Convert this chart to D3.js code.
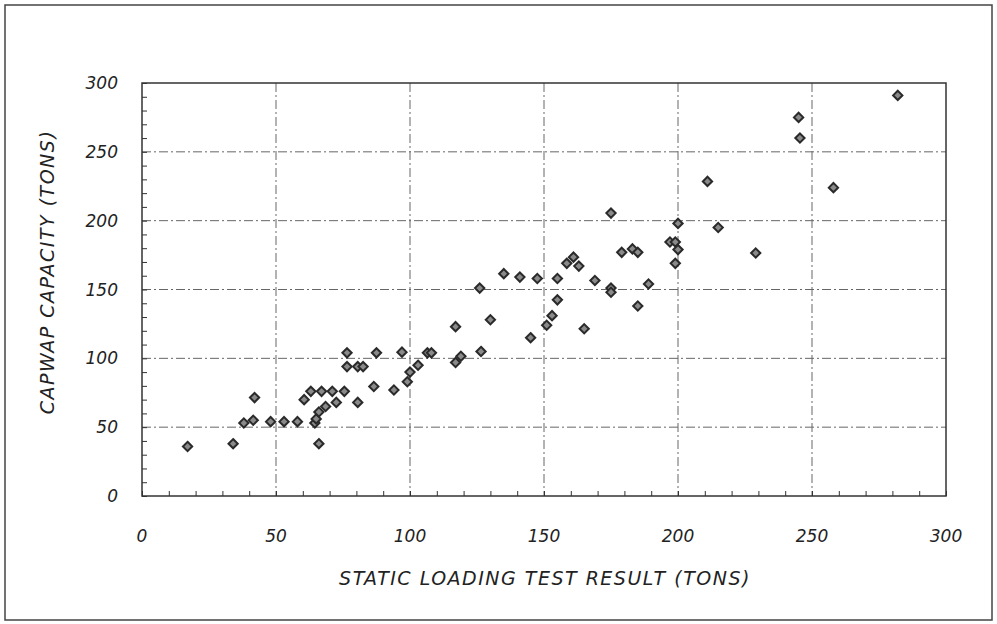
<!DOCTYPE html>
<html>
<head>
<meta charset="utf-8">
<script src="https://cdn.jsdelivr.net/npm/d3@7"></script>
<style>
  body { margin: 0; background: #fff; }
  text { font-family: "DejaVu Sans", sans-serif; font-style: italic; fill: #222; }
</style>
</head>
<body>
<script>
// static loading test vs CAPWAP capacity
var staticLoad = [17, 34, 38, 41.5, 42, 48, 53, 58, 64.5, 65, 66, 66, 68.5, 72.5, 60.5, 63, 67, 71, 75.5, 80.5,
  76.5, 76.5, 80.5, 82.5, 86.5, 87.5, 94, 97, 99, 100, 103, 106.5, 108, 117, 119, 117, 126.5, 126, 130, 135,
  141, 147.5, 145, 151, 153, 155, 155, 158.5, 161, 163, 165, 169, 175, 175, 175, 179, 183, 185, 185, 189,
  197, 199, 199, 200, 200, 211, 215, 229, 245, 245.5, 258, 282];
var capwap = [36, 38, 53, 55, 71.5, 54, 54, 54, 53, 56, 38, 61, 65, 68, 70, 76, 76, 76, 76, 68,
  94, 104, 94, 94, 79.5, 104, 77, 104.5, 83, 90, 95, 104, 104, 97, 101.5, 123, 105, 151, 128, 161.5,
  159, 158, 115, 124, 131, 142.5, 158, 169, 173.5, 167, 121.5, 156.5, 151, 148, 205.5, 177, 179.5, 177, 138, 154,
  184.5, 184.5, 169, 179, 198, 228.5, 195, 176.5, 275, 260, 224, 291];
var xTicks = [0, 50, 100, 150, 200, 250, 300];
var yTicks = [0, 50, 100, 150, 200, 250, 300];

var width = 997, height = 624;
var plotLeft = 142, plotRight = 946, plotTop = 83, plotBottom = 496;

var svg = d3.select('body').append('svg')
  .attr('width', width)
  .attr('height', height);

svg.append('rect')
  .attr('x', 5).attr('y', 5)
  .attr('width', 987).attr('height', 615)
  .attr('fill', '#fff')
  .attr('stroke', '#444')
  .attr('stroke-width', 1.5);

var x = d3.scaleLinear().domain([0, 300]).range([plotLeft, plotRight]);
var y = d3.scaleLinear().domain([0, 300]).range([plotBottom, plotTop]);

// grid
var grid = svg.append('g')
  .attr('stroke', '#666')
  .attr('stroke-width', 1)
  .attr('stroke-dasharray', '9,3,2,3');
grid.selectAll('.vg').data(xTicks.slice(1, -1)).enter().append('line')
  .attr('x1', d => x(d)).attr('x2', d => x(d))
  .attr('y1', plotTop).attr('y2', plotBottom);
grid.selectAll('.hg').data(yTicks.slice(1, -1)).enter().append('line')
  .attr('y1', d => y(d)).attr('y2', d => y(d))
  .attr('x1', plotLeft).attr('x2', plotRight);

// axes with inward minor ticks
svg.append('g')
  .attr('transform', 'translate(0,' + plotBottom + ')')
  .call(d3.axisTop(x).ticks(30).tickSize(5).tickFormat(''));
svg.append('g')
  .attr('transform', 'translate(' + plotLeft + ',0)')
  .call(d3.axisRight(y).ticks(30).tickSize(5).tickFormat(''));
svg.selectAll('.domain').remove();
svg.selectAll('.tick line').attr('stroke', '#333');

svg.append('rect')
  .attr('x', plotLeft).attr('y', plotTop)
  .attr('width', plotRight - plotLeft).attr('height', plotBottom - plotTop)
  .attr('fill', 'none')
  .attr('stroke', '#333')
  .attr('stroke-width', 1.5);

// tick labels
svg.selectAll('.xl').data(xTicks).enter().append('text')
  .attr('x', d => x(d))
  .attr('y', 542)
  .attr('text-anchor', 'middle')
  .attr('font-size', 17)
  .text(d => d);
svg.selectAll('.yl').data(yTicks).enter().append('text')
  .attr('x', 118)
  .attr('y', d => y(d) + 6)
  .attr('text-anchor', 'end')
  .attr('font-size', 17)
  .text(d => d);

svg.append('text')
  .attr('x', 545).attr('y', 585)
  .attr('text-anchor', 'middle')
  .attr('font-size', 19)
  .attr('letter-spacing', 1.5)
  .text('STATIC LOADING TEST RESULT (TONS)');
svg.append('text')
  .attr('transform', 'translate(54,272) rotate(-90)')
  .attr('text-anchor', 'middle')
  .attr('font-size', 19)
  .attr('letter-spacing', 1.5)
  .text('CAPWAP CAPACITY (TONS)');

// points
var pts = staticLoad.map(function(v, i) { return [v, capwap[i]]; });
var diamond = d3.symbol().type(d3.symbolDiamond2).size(55);
svg.selectAll('.pt').data(pts).enter().append('path')
  .attr('d', diamond)
  .attr('transform', d => 'translate(' + x(d[0]) + ',' + y(d[1]) + ')')
  .attr('fill', '#8a8a8a')
  .attr('stroke', '#2a2a2a')
  .attr('stroke-width', 2);
</script>
</body>
</html>
